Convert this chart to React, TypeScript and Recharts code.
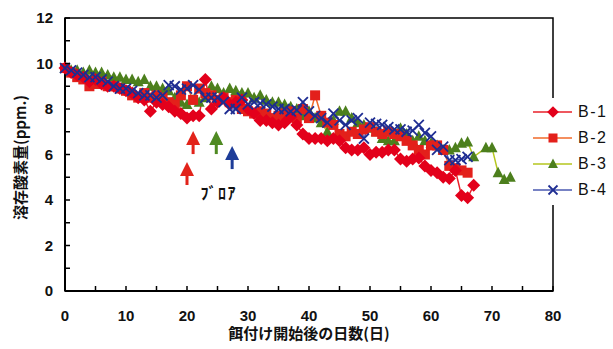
import React from 'react';
import { LineChart, Line, XAxis, YAxis, ReferenceArea, ReferenceDot } from 'recharts';

// observation day (x)
const days = [
  0, 1, 2, 3, 4, 5, 6, 7, 8, 9, 10, 11, 12, 13, 14, 15, 16, 17, 18, 19,
  20, 21, 22, 23, 24, 25, 26, 27, 28, 29, 30, 31, 32, 33, 34, 35, 36, 37, 38, 39,
  40, 41, 42, 43, 44, 45, 46, 47, 48, 49, 50, 51, 52, 53, 54, 55, 56, 57, 58, 59,
  60, 61, 62, 63, 64, 65, 66, 67, 68, 69, 70, 71, 72, 73,
];

// dissolved oxygen (ppm.)
const b1 = [
  9.8, 9.6, 9.5, 9.4, 9.2, 9.3, 9.1, 9.0, 9.0, 8.9, 8.8, 8.7, 8.5, 8.4, 7.9, 8.3, 8.2, 8.1, 7.9, 7.8,
  7.6, 7.7, 7.7, 9.3, 8.0, 8.3, 8.5, 8.2, 8.3, 8.4, 8.0, 7.8, 7.5, 7.5, 7.4, 7.3, 7.4, 7.65, 7.3, 6.9,
  6.7, 6.7, 6.7, 6.6, 6.7, 6.6, 6.3, 6.2, 6.2, 6.3, 6.0, 6.1, 6.1, 6.2, 6.2, 5.8, 5.7, 5.8, 5.85, 5.5,
  5.3, 5.2, 5.0, 4.95, 5.3, 4.2, 4.1, 4.65, null, null, null, null, null, null,
];
const b2 = [
  9.8, 9.6, 9.4, 9.3, 9.0, 9.1, 9.2, 9.0, 9.0, 8.9, 8.8, 8.6, 8.5, 8.7, 8.5, 8.6, 8.5, 8.3, 8.2, 8.6,
  9.0, 8.4, 8.9, 8.7, 8.6, 8.4, 8.5, 8.3, 8.4, 8.0, 7.9, 7.8, 7.9, 7.8, 7.6, 7.7, 7.8, 7.9, 7.6, 8.0,
  7.6, 8.6, 7.7, 7.4, 7.3, 6.9, 6.8, 7.0, 6.9, 7.1, 7.2, 7.0, 6.9, 7.0, 6.9, 6.8, 6.6, 6.4, 6.2, 6.0,
  6.4, 6.4, 6.2, 5.5, 5.4, 5.3, 5.2, null, null, null, null, null, null, null,
];
const b3 = [
  9.8, 9.7, 9.7, 9.6, 9.7, 9.6, 9.6, 9.5, 9.4, 9.4, 9.3, 9.3, 9.2, 9.3, 9.0, 9.0, 8.9, 8.8, 8.5, 8.3,
  8.2, 8.4, 8.3, 8.5, 9.0, 8.9, 8.7, 8.9, 8.8, 8.7, 8.7, 8.5, 8.6, 8.4, 8.3, 8.3, 8.2, 8.1, 8.0, 7.7,
  7.9, 7.6, 7.4, 7.0, 7.5, 7.9, 7.9, 7.6, 7.4, 7.3, 7.15, 7.0, 6.7, 6.6, 6.6, 7.15, 6.9, 6.6, 6.8, 6.6,
  6.5, 6.4, 6.2, 6.2, 6.3, 6.5, 6.55, 5.9, null, 6.3, 6.3, 5.2, 4.9, 5.0,
];
const b4 = [
  9.8, 9.7, 9.6, 9.5, 9.4, 9.4, 9.3, 9.2, 9.0, 8.9, 8.9, 8.8, 8.7, 8.6, 8.6, 8.5, 8.6, 9.05, 9.0, 8.85,
  8.9, 9.05, 8.85, 8.5, 8.5, 8.5, 8.3, 8.0, 8.0, 8.5, 8.2, 8.3, 8.25, 8.2, 8.1, 8.0, 8.0, 7.9, 7.95, 8.3,
  7.9, 7.7, 7.6, 7.4, 7.8, 7.5, 7.3, 7.5, 7.6, 6.7, 7.4, 7.35, 7.3, 7.2, 7.1, 7.1, 7.0, 7.05, 7.3, 6.95,
  6.8, 6.2, 6.35, 5.75, 5.75, 5.8, 5.9, null, null, null, null, null, null, null,
];

const xTicks = [0, 5, 10, 15, 20, 25, 30, 35, 40, 45, 50, 55, 60, 65, 70, 75, 80];
const yTicks = [0, 1, 2, 3, 4, 5, 6, 7, 8, 9, 10, 11, 12];

// blower arrows (tip position in data units)
const arrows = [
  { day: 21, value: 7.03, color: '#e2231a' },
  { day: 20, value: 5.67, color: '#e2231a' },
  { day: 24.8, value: 7.03, color: '#4f8a22' },
  { day: 27.4, value: 6.37, color: '#1d3c98' },
];
const blower = { day: 25.2, value: 4.3, text: 'ﾌﾞﾛｱ' };

const xTitle = '餌付け開始後の日数(日)';
const yTitle = '溶存酸素量(ppm.)';

const series = [
  { key: 'b3', name: 'B-3', line: '#b5c61e', fill: '#4c7f1d', shape: 'triangle' },
  { key: 'b2', name: 'B-2', line: '#f06a2a', fill: '#e3201b', shape: 'square' },
  { key: 'b1', name: 'B-1', line: '#e8202a', fill: '#e3001b', shape: 'diamond' },
  { key: 'b4', name: 'B-4', line: '#4a58b0', fill: '#1e2d92', shape: 'cross' },
];
const legendOrder = ['b1', 'b2', 'b3', 'b4'];

const data = days.map((day, i) => ({ day, b1: b1[i], b2: b2[i], b3: b3[i], b4: b4[i] }));

const numFont = '"Liberation Sans", Arial, sans-serif';
const jpFont = '"Noto Sans CJK JP", "Noto Sans", sans-serif';

const Marker = ({ shape, cx, cy, color, scale = 1 }: any) => {
  if (cx == null || cy == null) return null;
  const s = scale;
  if (shape === 'diamond') {
    return <polygon points={`${cx},${cy - 6.5 * s} ${cx + 6.5 * s},${cy} ${cx},${cy + 6.5 * s} ${cx - 6.5 * s},${cy}`} fill={color} />;
  }
  if (shape === 'square') {
    return <rect x={cx - 5 * s} y={cy - 5 * s} width={10 * s} height={10 * s} fill={color} />;
  }
  if (shape === 'triangle') {
    return <polygon points={`${cx},${cy - 6 * s} ${cx + 5.5 * s},${cy + 4.5 * s} ${cx - 5.5 * s},${cy + 4.5 * s}`} fill={color} />;
  }
  return (
    <g stroke={color} strokeWidth={1.8}>
      <line x1={cx - 5 * s} y1={cy - 5 * s} x2={cx + 5 * s} y2={cy + 5 * s} />
      <line x1={cx - 5 * s} y1={cy + 5 * s} x2={cx + 5 * s} y2={cy - 5 * s} />
    </g>
  );
};

const XTick = ({ x, y, payload }: any) => {
  const axisY = y - 19;
  return (
    <g>
      <line x1={x} x2={x} y1={axisY} y2={axisY - 5} stroke="#000" strokeWidth={1.5} />
      {payload.value % 10 === 0 && (
        <text x={x} y={y} dy="0.71em" textAnchor="middle" fontFamily={numFont} fontWeight="bold" fontSize={15} fill="#111">
          {payload.value}
        </text>
      )}
    </g>
  );
};

const YTick = ({ x, y, payload }: any) => {
  const axisX = x + 12;
  return (
    <g>
      <line x1={axisX} x2={axisX + 5} y1={y} y2={y} stroke="#000" strokeWidth={1.5} />
      {payload.value % 2 === 0 && (
        <text x={x} y={y} dy="0.35em" textAnchor="end" fontFamily={numFont} fontWeight="bold" fontSize={15} fill="#111">
          {payload.value}
        </text>
      )}
    </g>
  );
};

const XTitle = ({ viewBox }: any) => {
  const cx = viewBox.x + viewBox.width / 2;
  const cy = viewBox.y + viewBox.height - 15;
  return (
    <text x={cx} y={cy} dy="0.35em" textAnchor="middle" fontFamily={jpFont} fontWeight="bold" fontSize={15} fill="#111">
      {xTitle}
    </text>
  );
};

const YTitle = ({ viewBox }: any) => {
  const cx = viewBox.x + 21;
  const cy = viewBox.y + viewBox.height / 2 + 3;
  return (
    <text
      x={cx}
      y={cy}
      dy="0.35em"
      textAnchor="middle"
      transform={`rotate(-90, ${cx}, ${cy})`}
      fontFamily={jpFont}
      fontWeight="bold"
      fontSize={15}
      fill="#111"
    >
      {yTitle}
    </text>
  );
};

const Arrow = ({ cx, cy, color }: any) => (
  <g fill={color}>
    <polygon points={`${cx},${cy} ${cx + 7},${cy + 14} ${cx - 7},${cy + 14}`} />
    <rect x={cx - 1.5} y={cy + 13} width={3} height={10} />
  </g>
);

export default function App() {
  return (
    <div style={{ position: 'absolute', left: 0, top: 0, width: 613, height: 349, background: '#fff' }}>
      <LineChart width={613} height={349} data={data} margin={{ top: 18, right: 60, bottom: 0, left: 0 }}>
        <XAxis
          dataKey="day"
          type="number"
          domain={[0, 80]}
          ticks={xTicks}
          interval={0}
          tickSize={0}
          tickMargin={19}
          tickLine={false}
          tick={<XTick />}
          axisLine={{ stroke: '#000', strokeWidth: 2 }}
          height={58}
          label={{ content: <XTitle /> }}
        />
        <YAxis
          type="number"
          domain={[0, 12]}
          ticks={yTicks}
          interval={0}
          tickSize={0}
          tickMargin={12}
          tickLine={false}
          tick={<YTick />}
          axisLine={{ stroke: '#000', strokeWidth: 2 }}
          width={65}
          label={{ content: <YTitle /> }}
        />
        <ReferenceArea x1={0} x2={80} y1={0} y2={12} fill="none" fillOpacity={0} stroke="#000" strokeWidth={1.5} />
        {series.map((s) => (
          <Line
            key={s.key}
            dataKey={s.key}
            name={s.name}
            type="linear"
            stroke={s.line}
            strokeWidth={1.5}
            connectNulls
            isAnimationActive={false}
            dot={(p: any) => (
              <g key={`${s.key}-${p.index}`}>
                <Marker shape={s.shape} cx={p.cx} cy={p.cy} color={s.fill} />
              </g>
            )}
            activeDot={false}
          />
        ))}
        {arrows.map((a, i) => (
          <ReferenceDot
            key={`arrow-${i}`}
            x={a.day}
            y={a.value}
            r={0}
            shape={(p: any) => <Arrow cx={p.cx} cy={p.cy} color={a.color} />}
          />
        ))}
        <ReferenceDot
          x={blower.day}
          y={blower.value}
          r={0}
          shape={(p: any) => (
            <text x={p.cx} y={p.cy} dy="0.35em" textAnchor="middle" fontFamily={jpFont} fontWeight="bold" fontSize={16} letterSpacing={1.5} fill="#111">
              {blower.text}
            </text>
          )}
        />
      </LineChart>
      <div style={{ position: 'absolute', left: 528, top: 98, width: 85, height: 107, background: '#fff', paddingTop: 1, boxSizing: 'border-box' }}>
        {legendOrder.map((k) => {
          const s = series.find((x) => x.key === k)!;
          return (
            <div key={k} style={{ height: 26, display: 'flex', alignItems: 'center' }}>
              <svg width={50} height={26} style={{ display: 'block' }}>
                <line x1={5} x2={44} y1={13} y2={13} stroke={s.line} strokeWidth={1.5} />
                <Marker shape={s.shape} cx={25} cy={13} color={s.fill} scale={0.9} />
              </svg>
              <span style={{ fontFamily: numFont, fontSize: 16, letterSpacing: 1.5, color: '#111' }}>{s.name}</span>
            </div>
          );
        })}
      </div>
    </div>
  );
}
